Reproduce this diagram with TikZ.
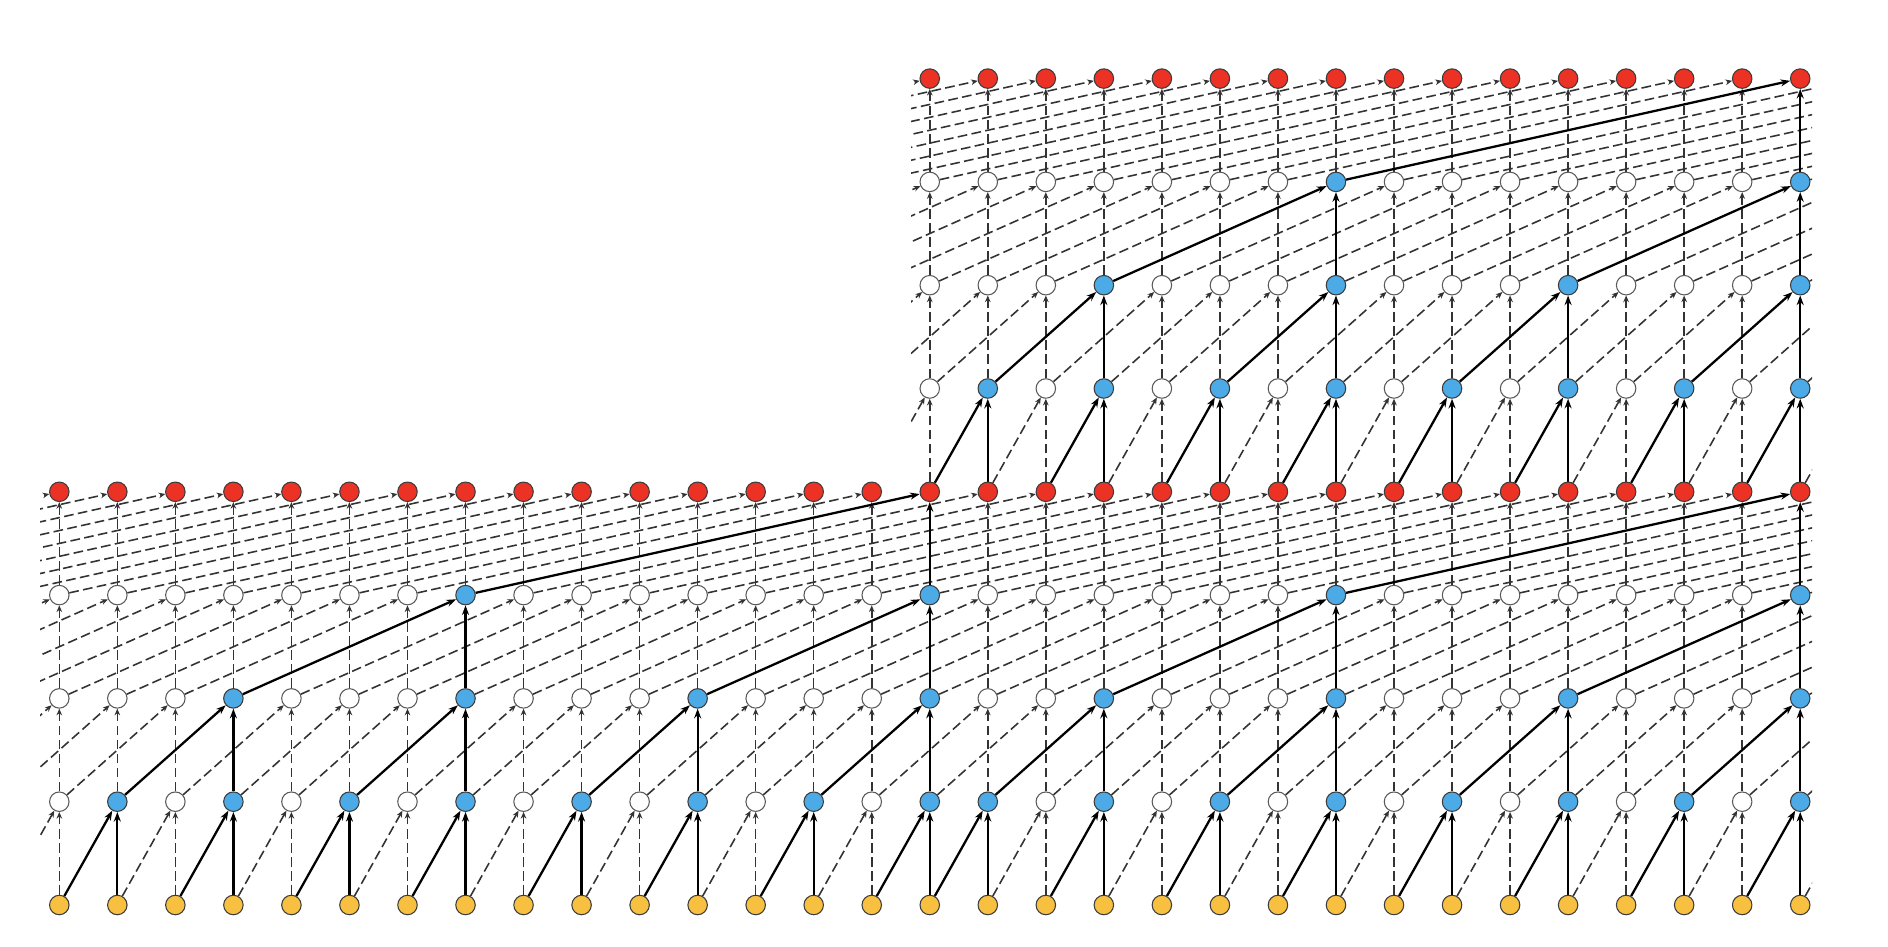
\documentclass[tikz,border=0pt]{standalone}
\usepackage{tikz}
\usetikzlibrary{arrows.meta,backgrounds}
\definecolor{outred}{RGB}{236,50,36}
\definecolor{hidblue}{RGB}{76,170,230}
\definecolor{inyellow}{RGB}{248,192,64}
\definecolor{rimgray}{RGB}{60,60,60}

\begin{document}
\begin{tikzpicture}[
    x=0.02cm, y=0.02cm,
    unit/.style={circle, draw=rimgray, line width=0.6pt, minimum size=0.39cm, inner sep=0pt},
    yellowunit/.style={unit, fill=inyellow},
    whiteunit/.style={unit, draw=rimgray!85, fill=white},
    blueunit/.style={unit, fill=hidblue},
    redunit/.style={unit, fill=outred},
    link/.style={dash pattern=on 5.5pt off 2.5pt, line width=0.9pt, draw=black!80,
                 -{Stealth[length=3.8pt,width=3.2pt]}},
    flow/.style={line width=1.3pt, draw=black, -{Stealth[length=5.5pt,width=4pt]}}
]
\useasboundingbox (0,0) rectangle (1888,946);

% Lower stack: inputs, three hidden rows, outputs
\begin{scope}
  \clip (40,0) rectangle (1812,946);
  \foreach \row in {0,...,4} {
    \pgfmathtruncatemacro\dt{2^\row}
    \foreach \col in {-8,...,38} {
      \pgfmathtruncatemacro\hl{or(and(and(\col>=0,\col<=15),mod(15-\col,\dt)==0),and(and(\col>=15,\col<=30),mod(30-\col,\dt)==0))}
      \ifnum\row=0 \def\sty{yellowunit}\else\ifnum\row=4 \def\sty{redunit}\else
        \ifnum\hl=1 \def\sty{blueunit}\else\def\sty{whiteunit}\fi\fi\fi
      \node[\sty] (n\row-\col) at ({59.3+58.03*\col},{41+103.3*\row}) {};
    }
  }
\end{scope}

% Upper stack, fed by the red row
\begin{scope}
  \clip (911,0) rectangle (1812,946);
  \foreach \row in {5,...,8} {
    \pgfmathtruncatemacro\dt{2^(\row-4)}
    \foreach \col in {7,...,38} {
      \pgfmathtruncatemacro\hl{and(and(\col>=15,\col<=30),mod(30-\col,\dt)==0)}
      \ifnum\row=8 \def\sty{redunit}\else
        \ifnum\hl=1 \def\sty{blueunit}\else\def\sty{whiteunit}\fi\fi
      \node[\sty] (n\row-\col) at ({59.3+58.03*\col},{41+103.3*\row}) {};
    }
  }
\end{scope}

% Connections (dashed first, highlighted paths on top)
\begin{pgfonlayer}{background}
\begin{scope}
  \clip (40,0) rectangle (1812,946);
  \foreach \pass in {0,1} {
    \foreach \row in {0,...,3} {
      \pgfmathtruncatemacro\nxt{\row+1}
      \pgfmathtruncatemacro\dl{2^\row}
      \pgfmathtruncatemacro\dt{2^\nxt}
      \foreach \col in {0,...,38} {
        \pgfmathtruncatemacro\src{\col-\dl}
        \pgfmathtruncatemacro\hl{or(and(and(\col>=0,\col<=15),mod(15-\col,\dt)==0),and(and(\col>=15,\col<=30),mod(30-\col,\dt)==0))}
        \ifnum\hl=\pass
          \ifnum\hl=1 \def\sty{flow}\else\def\sty{link}\fi
          \draw[\sty] (n\row-\col) -- (n\nxt-\col);
          \draw[\sty] (n\row-\src) -- (n\nxt-\col);
        \fi
      }
    }
  }
\end{scope}
\begin{scope}
  \clip (911,0) rectangle (1812,946);
  \foreach \pass in {0,1} {
    \foreach \row in {4,...,7} {
      \pgfmathtruncatemacro\nxt{\row+1}
      \pgfmathtruncatemacro\dl{2^(\row-4)}
      \pgfmathtruncatemacro\dt{2^(\row-3)}
      \foreach \col in {15,...,38} {
        \pgfmathtruncatemacro\src{\col-\dl}
        \pgfmathtruncatemacro\hl{and(and(\col>=15,\col<=30),mod(30-\col,\dt)==0)}
        \ifnum\hl=\pass
          \ifnum\hl=1 \def\sty{flow}\else\def\sty{link}\fi
          \draw[\sty] (n\row-\col) -- (n\nxt-\col);
          \draw[\sty] (n\row-\src) -- (n\nxt-\col);
        \fi
      }
    }
  }
\end{scope}
\end{pgfonlayer}

\end{tikzpicture}
\end{document}
